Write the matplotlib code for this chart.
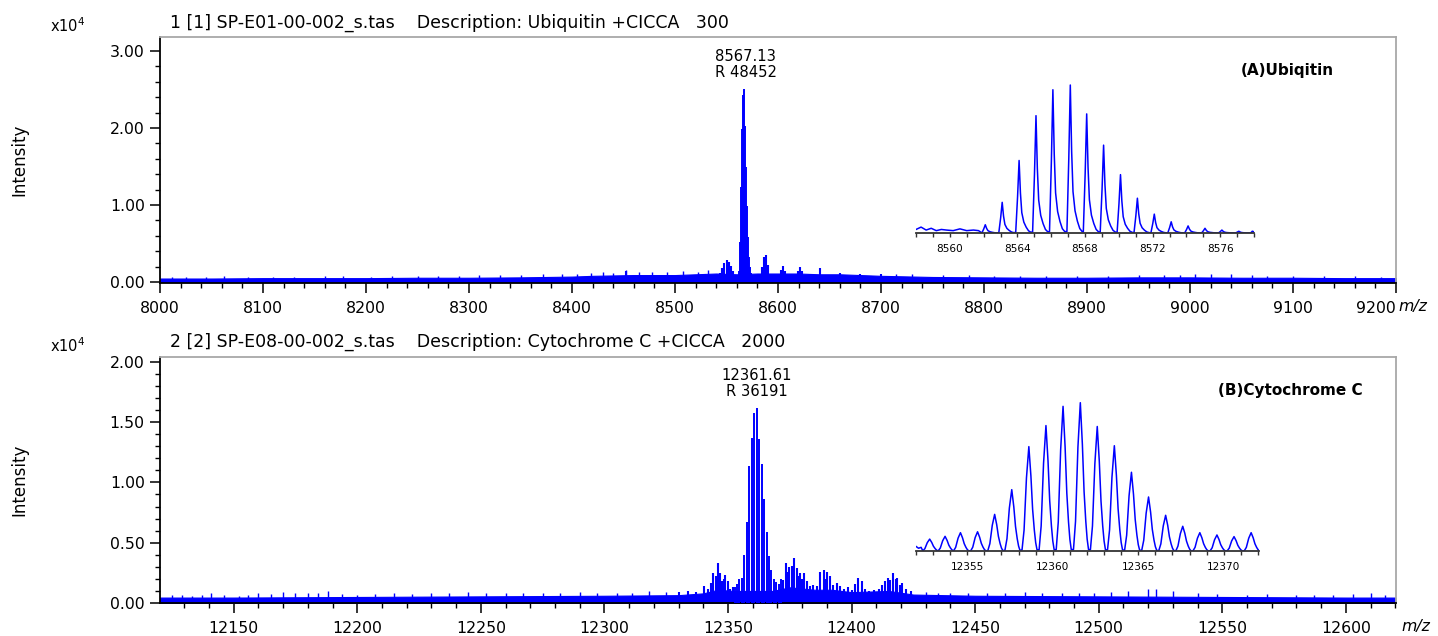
import numpy as np
import matplotlib
matplotlib.use("Agg")
import matplotlib.pyplot as plt
from matplotlib.ticker import MultipleLocator, FormatStrFormatter

plt.rcParams['font.family'] = ['DejaVu Sans']
plt.rcParams['mathtext.default'] = 'regular'

# ------------------------------------------------------------------ data
# Panel A (Ubiquitin) - isotope cluster centroids (m/z, intensity in 1e4)
a_iso_mz = [8562.1, 8563.1, 8564.1, 8565.1, 8566.1, 8567.13, 8568.1, 8569.1,
            8570.1, 8571.1, 8572.1, 8573.1, 8574.1, 8575.1, 8576.1, 8577.1]
a_iso_int = [0.14, 0.52, 1.23, 1.99, 2.43, 2.51, 2.02, 1.49,
             0.99, 0.59, 0.32, 0.19, 0.12, 0.08, 0.05, 0.03]
# side peaks in the full-range view
a_side_mz = [8452, 8544, 8546, 8548, 8550, 8552, 8554, 8556, 8584, 8586, 8588, 8590,
             8603, 8605, 8607, 8619, 8621, 8623, 8641, 8660, 8680, 8700]
a_side_int = [0.14, 0.12, 0.18, 0.25, 0.29, 0.26, 0.21, 0.14, 0.2, 0.33, 0.35, 0.22,
              0.16, 0.21, 0.14, 0.14, 0.19, 0.14, 0.18, 0.12, 0.11, 0.1]
# baseline noise band
a_base_mz = [8000, 8050, 8100, 8150, 8200, 8250, 8300, 8350, 8400, 8420, 8440, 8460,
             8480, 8500, 8520, 8540, 8560, 8580, 8600, 8620, 8640, 8660, 8680, 8700,
             8750, 8800, 8850, 8900, 8950, 9000, 9050, 9100, 9150, 9200]
a_base_int = [0.045, 0.045, 0.05, 0.05, 0.05, 0.055, 0.055, 0.06, 0.07, 0.08, 0.085, 0.09,
              0.09, 0.09, 0.1, 0.11, 0.1, 0.11, 0.11, 0.11, 0.1, 0.1, 0.09, 0.08,
              0.065, 0.06, 0.055, 0.055, 0.06, 0.06, 0.055, 0.055, 0.05, 0.05]
a_spike_mz = [8012, 8025, 8045, 8062, 8085, 8110, 8130, 8160, 8178, 8205, 8225, 8250,
              8270, 8290, 8310, 8330, 8350, 8372, 8390, 8405, 8418, 8430, 8440, 8452,
              8465, 8478, 8492, 8508, 8522, 8532, 8715, 8730, 8760, 8785, 8810, 8835,
              8860, 8890, 8920, 8950, 8975, 8990, 9005, 9020, 9040, 9060, 9075, 9100,
              9130, 9160, 9185]
a_spike_int = [0.07, 0.07, 0.065, 0.075, 0.065, 0.07, 0.07, 0.08, 0.08, 0.07, 0.075, 0.08,
               0.08, 0.08, 0.085, 0.09, 0.09, 0.1, 0.1, 0.11, 0.12, 0.13, 0.12, 0.15,
               0.13, 0.13, 0.13, 0.14, 0.13, 0.15, 0.11, 0.1, 0.09, 0.085, 0.08, 0.08,
               0.08, 0.08, 0.08, 0.085, 0.09, 0.09, 0.1, 0.11, 0.11, 0.09, 0.08, 0.08,
               0.075, 0.075, 0.07]
# inset baseline wiggle (outside the isotope cluster)
a_in_left_mz = [8558.0, 8558.3, 8558.6, 8558.9, 8559.2, 8559.5, 8559.8, 8560.2, 8560.6,
                8561.0, 8561.4, 8561.7]
a_in_left_int = [0.06, 0.1, 0.05, 0.08, 0.04, 0.06, 0.05, 0.04, 0.07, 0.04, 0.05, 0.04]
a_in_right_mz = [8577.9, 8578.0]
a_in_right_int = [0.03, 0.02]
a_title = "1 [1] SP-E01-00-002_s.tas    Description: Ubiquitin +CICCA   300"
a_peak_label = "8567.13"
a_resolution = "48452"
a_name = "(A)Ubiqitin"

# Panel B (Cytochrome C)
b_iso_mz = [12352.8, 12353.7, 12354.6, 12355.6, 12356.6, 12357.6, 12358.6, 12359.6,
            12360.6, 12361.61, 12362.6, 12363.6, 12364.6, 12365.6, 12366.6, 12367.6,
            12368.6, 12369.6, 12370.6, 12371.6]
b_iso_int = [0.13, 0.16, 0.20, 0.21, 0.40, 0.67, 1.14, 1.37,
             1.58, 1.62, 1.36, 1.15, 0.86, 0.59, 0.39, 0.27,
             0.20, 0.175, 0.157, 0.20]
b_side_mz = [12330, 12334, 12337, 12340.5, 12342, 12343, 12344, 12345, 12345.8, 12346.7,
             12347.5, 12348.3, 12349, 12350, 12351, 12352, 12372.4, 12373.5, 12374.3,
             12374.9, 12375.8, 12376.8, 12377.9, 12378.5, 12379.2, 12380, 12380.6, 12381.9,
             12383.3, 12384.6, 12386, 12387.3, 12388.7, 12389.4, 12390, 12391.4, 12392.7,
             12394, 12395.4, 12396.8, 12398.5, 12400, 12401.5, 12402.8, 12404.2, 12405.5,
             12407, 12409, 12411, 12412.5, 12413.6, 12414.6, 12415.7, 12416.9, 12417.8,
             12418.6, 12419.6, 12420.6, 12422, 12424]
b_side_int = [0.09, 0.1, 0.09, 0.14, 0.12, 0.17, 0.25, 0.22, 0.33, 0.25,
              0.18, 0.2, 0.23, 0.18, 0.12, 0.13, 0.19, 0.33, 0.26,
              0.30, 0.31, 0.37, 0.29, 0.22, 0.25, 0.2, 0.25, 0.18,
              0.14, 0.15, 0.14, 0.26, 0.27, 0.2, 0.26, 0.22, 0.15,
              0.17, 0.14, 0.12, 0.13, 0.11, 0.16, 0.21, 0.18, 0.12,
              0.1, 0.11, 0.12, 0.15, 0.18, 0.21, 0.19, 0.25, 0.2,
              0.21, 0.15, 0.17, 0.12, 0.1]
b_base_mz = [12120, 12150, 12200, 12250, 12300, 12330, 12340, 12346, 12352, 12368,
             12375, 12385, 12392, 12400, 12415, 12425, 12450, 12500, 12550, 12600, 12620]
b_base_int = [0.045, 0.045, 0.05, 0.055, 0.06, 0.065, 0.08, 0.11, 0.1, 0.1,
              0.13, 0.11, 0.11, 0.09, 0.1, 0.07, 0.06, 0.055, 0.05, 0.045, 0.045]
b_spike_mz = [12125, 12129, 12133, 12137, 12141, 12146, 12152, 12156, 12160, 12165,
              12170, 12175, 12180, 12184, 12188, 12194, 12200, 12207, 12215, 12222,
              12230, 12237, 12245, 12252, 12260, 12267, 12275, 12282, 12290, 12297,
              12305, 12311, 12318, 12325, 12430, 12435, 12440, 12447, 12455, 12462,
              12470, 12477, 12485, 12492, 12498, 12505, 12512, 12520, 12523, 12530,
              12540, 12548, 12560, 12568, 12580, 12587, 12595, 12603, 12610, 12616]
b_spike_int = [0.07, 0.065, 0.06, 0.065, 0.08, 0.065, 0.06, 0.07, 0.08, 0.075,
               0.09, 0.08, 0.08, 0.085, 0.1, 0.075, 0.07, 0.075, 0.08, 0.075,
               0.08, 0.08, 0.09, 0.08, 0.08, 0.085, 0.08, 0.08, 0.09, 0.085,
               0.08, 0.085, 0.1, 0.09, 0.09, 0.085, 0.08, 0.08, 0.08, 0.085,
               0.09, 0.08, 0.08, 0.08, 0.085, 0.09, 0.1, 0.12, 0.12, 0.1,
               0.08, 0.075, 0.07, 0.075, 0.07, 0.07, 0.07, 0.075, 0.08, 0.07]
b_in_left_mz = [12352.0, 12352.15, 12352.3]
b_in_left_int = [0.05, 0.03, 0.04]
b_title = "2 [2] SP-E08-00-002_s.tas    Description: Cytochrome C +CICCA   2000"
b_peak_label = "12361.61"
b_resolution = "36191"
b_name = "(B)Cytochrome C"

# ------------------------------------------------------------------ style
BLUE = '#0000ff'
W, H = 1438, 636
FS = 11.3

# peak glyph shapes for the zoomed insets (offset in Da, relative height)
GLYPH_A = ([-0.2, -0.09, 0.0, 0.08, 0.16, 0.28, 0.42, 0.56, 0.7],
           [0.01, 0.5, 1.0, 0.55, 0.28, 0.15, 0.08, 0.03, 0.01])
GLYPH_B = ([-0.4, -0.28, -0.14, 0.0, 0.12, 0.22, 0.32, 0.4, 0.48],
           [0.01, 0.2, 0.7, 1.0, 0.72, 0.4, 0.2, 0.08, 0.01])


def fx(px):
    return px / W


def fy(py):
    return 1 - py / H


fig = plt.figure(figsize=(W / 100, H / 100), dpi=100)


def style_main(ax):
    for s in ('left', 'bottom'):
        ax.spines[s].set_color('black')
        ax.spines[s].set_linewidth(1.3)
    for s in ('top', 'right'):
        ax.spines[s].set_color('#a8a8a8')
        ax.spines[s].set_linewidth(1.3)
    ax.tick_params(which='major', direction='out', length=7, width=1.1,
                   labelsize=FS, pad=4, color='black')
    ax.tick_params(which='minor', direction='out', length=3.5, width=1.0, color='black')
    ax.tick_params(axis='x', which='major', pad=6)
    ax.yaxis.set_major_formatter(FormatStrFormatter('%.2f'))


def draw_main(ax, base_mz, base_int, spike_mz, spike_int, side_mz, side_int, iso_mz, iso_int):
    ax.fill_between(base_mz, 0, base_int, color=BLUE, lw=0.8, zorder=2)
    ax.vlines(spike_mz, 0, spike_int, colors=BLUE, lw=1.0, zorder=2)
    ax.vlines(side_mz, 0, side_int, colors=BLUE, lw=1.5, zorder=2)
    ax.vlines(iso_mz, 0, iso_int, colors=BLUE, lw=1.4, zorder=3)


def draw_inset(rect, xlim, ylim, iso_mz, iso_int, left_mz, left_int, right_mz, right_int,
               glyph, major):
    ax = fig.add_axes(rect)
    ax.patch.set_alpha(0)
    offs, rel = glyph
    xs = list(left_mz)
    ys = list(left_int)
    for m, h in zip(iso_mz, iso_int):
        xs += [m + o for o in offs]
        ys += [h * r for r in rel]
    xs += list(right_mz)
    ys += list(right_int)
    ax.plot(xs, ys, color=BLUE, lw=1.1, zorder=3)
    ax.set_xlim(*xlim)
    ax.set_ylim(*ylim)
    for s in ('left', 'top', 'right'):
        ax.spines[s].set_visible(False)
    ax.spines['bottom'].set_color('#333333')
    ax.spines['bottom'].set_linewidth(1.3)
    ax.spines['bottom'].set_zorder(4)
    ax.set_yticks([])
    ax.xaxis.set_major_locator(MultipleLocator(major))
    ax.xaxis.set_minor_locator(MultipleLocator(1))
    ax.tick_params(which='both', direction='out', length=3, width=1.0, color='#333333')
    ax.tick_params(which='major', labelsize=7.6, pad=5)
    return ax


# ---------------- Panel A
axA = fig.add_axes([fx(160), fy(283.3), fx(1396) - fx(160), (283.3 - 37.3) / H])
draw_main(axA, a_base_mz, a_base_int, a_spike_mz, a_spike_int, a_side_mz, a_side_int,
          a_iso_mz, a_iso_int)
axA.set_xlim(8000, 9200)
axA.set_ylim(-0.017, 3.178)
style_main(axA)
axA.xaxis.set_minor_locator(MultipleLocator(20))
axA.yaxis.set_major_locator(MultipleLocator(1.0))
axA.yaxis.set_minor_locator(MultipleLocator(0.2))
xtA = list(range(8000, 9201, 100))
axA.set_xticks(xtA)
axA.set_xticklabels([str(t) for t in xtA])
axA.get_xticklabels()[-1].set_ha('right')

ia = int(np.argmax(a_iso_int))
axA.annotate(a_peak_label + "\nR " + a_resolution, xy=(a_iso_mz[ia], a_iso_int[ia]),
             xytext=(1, 6), textcoords='offset points', ha='center', va='bottom',
             fontsize=10.6, linespacing=1.12)
fig.text(fx(1287), fy(70), a_name, fontsize=11, fontweight='bold', ha='center', va='center')

draw_inset([fx(916), fy(233), (1254 - 916) / W, (233 - 80) / H], (8558, 8578), (0, 2.595),
           a_iso_mz, a_iso_int, a_in_left_mz, a_in_left_int, a_in_right_mz, a_in_right_int,
           GLYPH_A, 4)

# ---------------- Panel B
axB = fig.add_axes([fx(160), fy(603), fx(1396) - fx(160), (603 - 356.7) / H])
draw_main(axB, b_base_mz, b_base_int, b_spike_mz, b_spike_int, b_side_mz, b_side_int,
          b_iso_mz, b_iso_int)
axB.set_xlim(12120.2, 12620.3)
axB.set_ylim(0, 2.043)
style_main(axB)
axB.xaxis.set_major_locator(MultipleLocator(50))
axB.xaxis.set_minor_locator(MultipleLocator(10))
axB.yaxis.set_major_locator(MultipleLocator(0.5))
axB.yaxis.set_minor_locator(MultipleLocator(0.1))
axB.xaxis.set_major_formatter(FormatStrFormatter('%d'))

ib = int(np.argmax(b_iso_int))
axB.annotate(b_peak_label + "\nR " + b_resolution, xy=(b_iso_mz[ib], b_iso_int[ib]),
             xytext=(0, 6), textcoords='offset points', ha='center', va='bottom',
             fontsize=10.6, linespacing=1.12)
fig.text(fx(1290), fy(390), b_name, fontsize=11, fontweight='bold', ha='center', va='center')

draw_inset([fx(916), fy(551), (1259 - 916) / W, (551 - 395) / H], (12352, 12372.06), (0, 1.704),
           b_iso_mz, b_iso_int, b_in_left_mz, b_in_left_int, [], [], GLYPH_B, 5)

# ---------------- shared texts
for ytitle, title, yexp, ylab in ((23, a_title, 31.5, 160), (342, b_title, 351.7, 480)):
    fig.text(fx(170), fy(ytitle), title, fontsize=12.5, ha='left', va='center')
    fig.text(fx(50), fy(yexp), r'x10$^{4}$', fontsize=10.5, ha='left', va='baseline')
    fig.text(fx(19), fy(ylab), 'Intensity', fontsize=12, rotation=90, ha='center', va='center')

fig.text(fx(1398), fy(307), 'm/z', fontsize=FS, style='italic', ha='left', va='center')
fig.text(fx(1401), fy(627), 'm/z', fontsize=FS, style='italic', ha='left', va='center')

fig.savefig('out.png', dpi=100)
